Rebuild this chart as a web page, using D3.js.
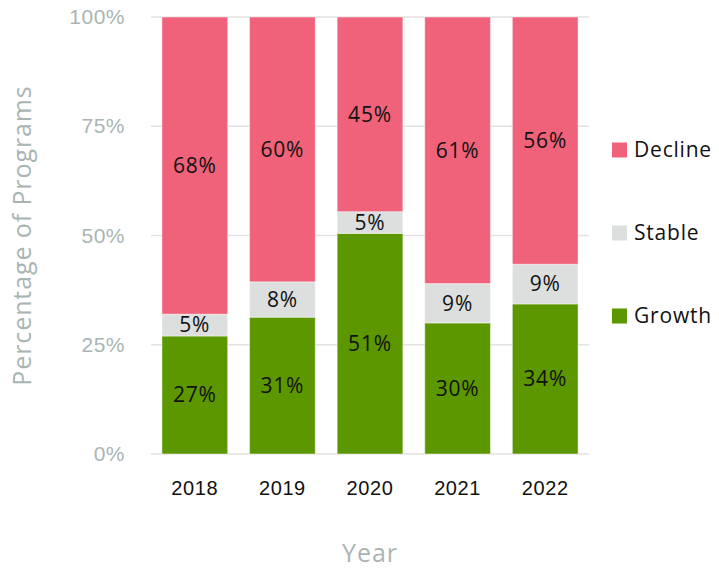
<!DOCTYPE html>
<html>
<head>
<meta charset="utf-8">
<script src="https://cdn.jsdelivr.net/npm/d3@7"></script>
<style>
  html, body { margin: 0; padding: 0; background: #fff; }
  svg { display: block; font-family: "Open Sans", "Noto Sans", sans-serif; }
</style>
</head>
<body>
<svg id="chart" width="719" height="571"></svg>
<script>
// Program outcome shares by year
const years = ["2018", "2019", "2020", "2021", "2022"];
const growth = [27, 31, 51, 30, 34];
const stable = [5, 8, 5, 9, 9];
const decline = [68, 60, 45, 61, 56];
const seriesKeys = ["Growth", "Stable", "Decline"];
const seriesColors = ["#5c9700", "#dcdfde", "#ef6279"];
const yTicks = [0, 0.25, 0.5, 0.75, 1];

const rows = years.map((y, i) => ({ year: y, Growth: growth[i], Stable: stable[i], Decline: decline[i] }));

const svg = d3.select("#chart");
const margin = { left: 151, right: 130, top: 17, bottom: 117 };
const W = 719, H = 571;

const x = d3.scaleBand().domain(years).range([margin.left, W - margin.right]).paddingInner(0.25).paddingOuter(0.125);
const y = d3.scaleLinear().domain([0, 1]).range([H - margin.bottom, margin.top]);
const color = d3.scaleOrdinal().domain(seriesKeys).range(seriesColors);

const stack = d3.stack().keys(seriesKeys).offset(d3.stackOffsetExpand);
const layers = stack(rows);

// gridlines
svg.append("g").selectAll("line").data(yTicks).join("line")
  .attr("x1", margin.left).attr("x2", W - margin.right)
  .attr("y1", d => y(d)).attr("y2", d => y(d))
  .attr("stroke", "#e2e2e2").attr("stroke-width", 1.5);

// y axis tick labels
const yAxis = d3.axisLeft(y).tickValues(yTicks).tickFormat(d3.format(".0%")).tickSize(0).tickPadding(26);
svg.append("g").attr("transform", `translate(${margin.left},0)`).call(yAxis)
  .call(g => g.select(".domain").remove())
  .call(g => g.selectAll("text").attr("fill", "#a9b5b3").attr("font-size", 21).attr("letter-spacing", 0.5));

// x axis labels
const xAxis = d3.axisBottom(x).tickSize(0).tickPadding(27);
svg.append("g").attr("transform", `translate(0,${y(0)})`).call(xAxis)
  .call(g => g.select(".domain").remove())
  .call(g => g.selectAll("text").attr("fill", "#111").attr("font-size", 20).attr("letter-spacing", 0.6));

// bars
const layerG = svg.append("g").selectAll("g").data(layers).join("g")
  .attr("fill", d => color(d.key));
layerG.selectAll("rect").data(d => d.map(p => ({ p, key: d.key }))).join("rect")
  .attr("x", d => x(d.p.data.year))
  .attr("width", x.bandwidth())
  .attr("y", d => y(d.p[1]))
  .attr("height", d => y(d.p[0]) - y(d.p[1]))
  .attr("stroke", "#ffffff").attr("stroke-opacity", 0.45).attr("stroke-width", 1);

// value labels
layerG.selectAll("text").data(d => d.map(p => ({ p, key: d.key }))).join("text")
  .attr("x", d => x(d.p.data.year) + x.bandwidth() / 2)
  .attr("y", d => y((d.p[0] + d.p[1]) / 2))
  .attr("dy", "0.35em")
  .attr("text-anchor", "middle")
  .attr("fill", "#111").attr("font-size", 21).attr("letter-spacing", 0.8)
  .text(d => d.p.data[d.key] + "%");

// axis titles
svg.append("text")
  .attr("transform", `translate(31,${(y(0) + y(1)) / 2}) rotate(-90)`)
  .attr("text-anchor", "middle")
  .attr("fill", "#a9b5b3").attr("font-size", 25).attr("letter-spacing", 0.9)
  .text("Percentage of Programs");
svg.append("text")
  .attr("x", (margin.left + W - margin.right) / 2).attr("y", 562)
  .attr("text-anchor", "middle")
  .attr("fill", "#a9b5b3").attr("font-size", 25).attr("letter-spacing", 1)
  .text("Year");

// legend
const legendOrder = ["Decline", "Stable", "Growth"];
const legend = svg.append("g").selectAll("g").data(legendOrder).join("g")
  .attr("transform", (d, i) => `translate(612,${150 + i * 83})`);
legend.append("rect").attr("x", 0).attr("y", -7.5).attr("width", 15).attr("height", 15)
  .attr("fill", d => color(d));
legend.append("text").attr("x", 22).attr("dy", "0.35em")
  .attr("fill", "#111").attr("font-size", 21).attr("letter-spacing", 0.8)
  .text(d => d);
</script>
</body>
</html>
